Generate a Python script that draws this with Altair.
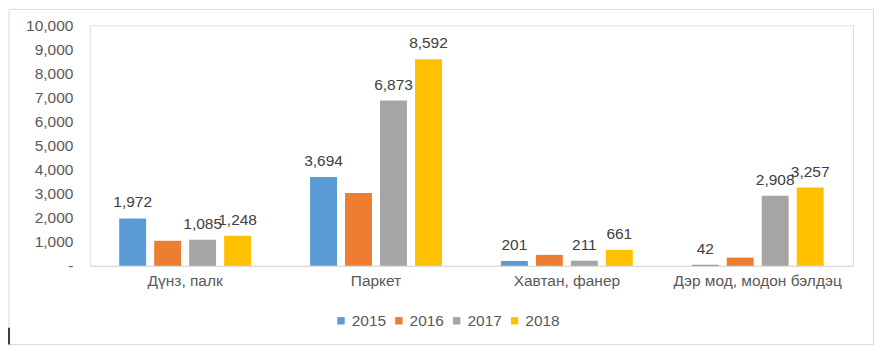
import altair as alt
import pandas as pd

categories = ["Дүнз, палк", "Паркет", "Хавтан, фанер", "Дэр мод, модон бэлдэц"]
years = ["2015", "2016", "2017", "2018"]
v2015 = [1972, 3694, 201, 42]
v2016 = [1040, 3030, 455, 340]
v2017 = [1085, 6873, 211, 2908]
v2018 = [1248, 8592, 661, 3257]
labelled_years = ["2015", "2017", "2018"]
colors = ["#5B9BD5", "#ED7D31", "#A5A5A5", "#FFC000"]

rows = []
for y, vals in zip(years, [v2015, v2016, v2017, v2018]):
    for c, v in zip(categories, vals):
        rows.append({"cat": c, "year": y, "value": v, "show": y in labelled_years})
df = pd.DataFrame(rows)

FONT = "Liberation Sans"
FS = 15.5

x_enc = alt.X("cat:N", sort=categories, title=None,
              scale=alt.Scale(paddingInner=0.267, paddingOuter=0.133),
              axis=alt.Axis(labelAngle=0, ticks=False, domainColor="#d9d9d9",
                            labelColor="#595959", labelFontSize=FS, labelFont=FONT,
                            labelPadding=8, grid=False))
xo_enc = alt.XOffset("year:N", sort=years,
                     scale=alt.Scale(paddingInner=0.23, paddingOuter=0.115))
y_enc = alt.Y("value:Q", title=None,
              scale=alt.Scale(domain=[0, 10000], nice=False),
              axis=alt.Axis(values=list(range(0, 10001, 1000)), ticks=False, domain=False,
                            grid=False, labelColor="#595959", labelFontSize=FS,
                            labelFont=FONT, labelPadding=17, labelOverlap=False,
                            labelExpr="datum.value == 0 ? '-' : format(datum.value, ',')"))

base = alt.Chart(df)

bars = base.mark_bar().encode(
    x=x_enc, xOffset=xo_enc, y=y_enc,
    color=alt.Color("year:N", sort=years,
                    scale=alt.Scale(domain=years, range=colors),
                    legend=alt.Legend(title=None, orient="none", direction="horizontal",
                                      legendX=244, legendY=288, symbolType="square",
                                      symbolSize=55, symbolStrokeWidth=0,
                                      labelFont=FONT, labelFontSize=FS,
                                      labelColor="#595959", labelOffset=3,
                                      columnPadding=5)),
)

texts = base.transform_filter("datum.show").mark_text(
    baseline="alphabetic", dy=-11, font=FONT, fontSize=FS, color="#404040"
).encode(
    x=x_enc, xOffset=xo_enc, y=y_enc,
    text=alt.Text("value:Q", format=","),
)

frame = alt.Chart(pd.DataFrame({"a": [0]})).mark_rect(
    fill=None, stroke="#d9d9d9", strokeWidth=1
).encode(x=alt.value(-81), x2=alt.value(785.5), y=alt.value(-16), y2=alt.value(320))

cursor = alt.Chart(pd.DataFrame({"a": [0]})).mark_rule(
    color="#000000", strokeWidth=1.5
).encode(x=alt.value(-81), y=alt.value(303), y2=alt.value(320))

chart = alt.layer(frame, bars, texts, cursor).properties(
    width=765, height=241,
    autosize=alt.AutoSizeParams(type="none"),
    padding={"left": 82, "top": 17, "right": 21, "bottom": 81},
).configure_view(stroke=None).configure(background="white")

chart.save("out.html", embed_options={"renderer": "svg", "actions": False})
